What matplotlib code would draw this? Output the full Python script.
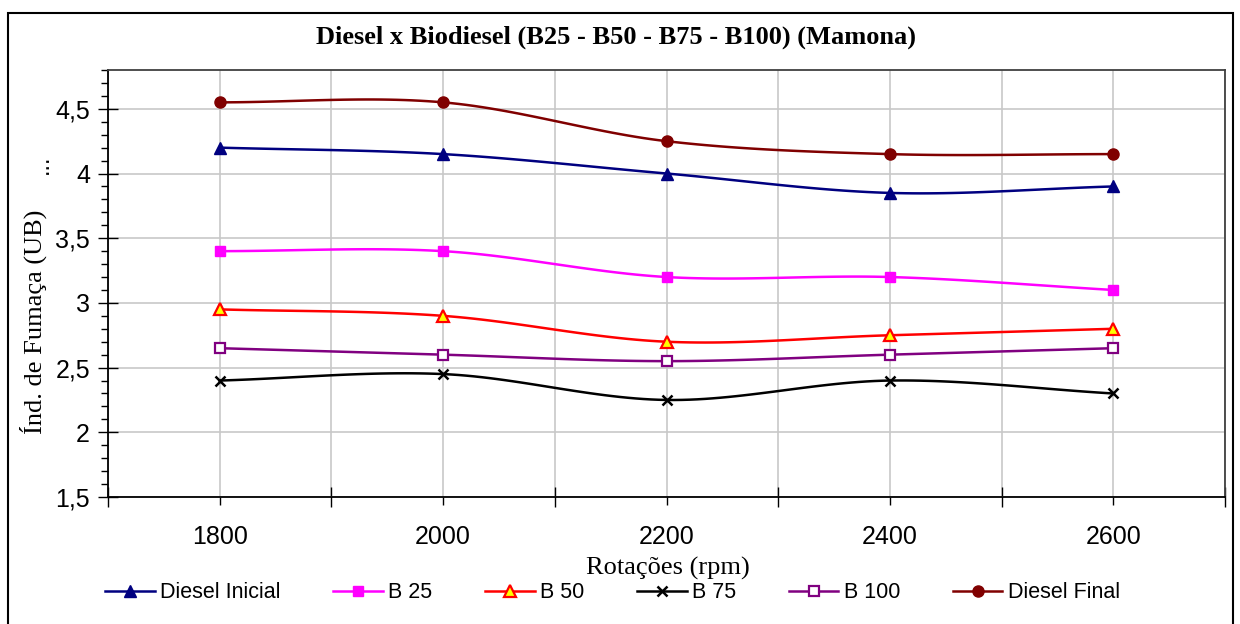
import numpy as np
import matplotlib
matplotlib.use("Agg")
import matplotlib.pyplot as plt
from matplotlib.patches import Rectangle
from matplotlib.ticker import FixedLocator, FuncFormatter

# data
rpm = [1800, 2000, 2200, 2400, 2600]
diesel_inicial = [4.20, 4.15, 4.00, 3.85, 3.90]
b25 = [3.40, 3.40, 3.20, 3.20, 3.10]
b50 = [2.95, 2.90, 2.70, 2.75, 2.80]
b75 = [2.40, 2.45, 2.25, 2.40, 2.30]
b100 = [2.65, 2.60, 2.55, 2.60, 2.65]
diesel_final = [4.55, 4.55, 4.25, 4.15, 4.15]

x_ticks_major = [1700, 1900, 2100, 2300, 2500, 2700]
y_ticks = [1.5, 2.0, 2.5, 3.0, 3.5, 4.0, 4.5]


def smooth(x, y, n=30):
    """Catmull-Rom curve through the points, similar to Excel's smoothed lines."""
    x = np.asarray(x, float)
    y = np.asarray(y, float)
    px = np.concatenate([[2 * x[0] - x[1]], x, [2 * x[-1] - x[-2]]])
    py = np.concatenate([[2 * y[0] - y[1]], y, [2 * y[-1] - y[-2]]])
    xs, ys = [], []
    t = np.linspace(0, 1, n)
    for i in range(1, len(px) - 2):
        for p, out in ((px, xs), (py, ys)):
            p0, p1, p2, p3 = p[i - 1], p[i], p[i + 1], p[i + 2]
            out.append(0.5 * ((2 * p1) + (-p0 + p2) * t
                              + (2 * p0 - 5 * p1 + 4 * p2 - p3) * t ** 2
                              + (-p0 + 3 * p1 - 3 * p2 + p3) * t ** 3))
    return np.concatenate(xs), np.concatenate(ys)


fig = plt.figure(figsize=(12.4, 6.24), dpi=100)
ax = fig.add_axes([108 / 1240, 1 - 497 / 624, (1225 - 108) / 1240, (497 - 70) / 624])

# outer chart border (bottom edge is cut off in the original)
fig.patches.append(Rectangle((8 / 1240, -10 / 624), (1233 - 8) / 1240, (611 + 10) / 624,
                             transform=fig.transFigure, fill=False,
                             edgecolor="black", linewidth=1.5))

series = [
    ("Diesel Inicial", diesel_inicial, dict(color="#000080", marker="^", ms=8)),
    ("B 25", b25, dict(color="#FF00FF", marker="s", ms=7)),
    ("B 50", b50, dict(color="#FF0000", marker="^", ms=8, mfc="#FFFF00", mec="#FF0000", mew=1.6)),
    ("B 75", b75, dict(color="black", marker="x", ms=7, mew=1.8)),
    ("B 100", b100, dict(color="#800080", marker="s", ms=6.5, mfc="white", mec="#800080", mew=1.6)),
    ("Diesel Final", diesel_final, dict(color="#800000", marker="o", ms=8)),
]

for name, vals, style in series:
    sx, sy = smooth(rpm, vals)
    ax.plot(sx, sy, color=style["color"], lw=1.8, zorder=3)
    ax.plot(rpm, vals, linestyle="none", zorder=4, **style)
    # proxy for legend
    ax.plot([], [], lw=1.8, label=name, **style)

ax.set_xlim(1700, 2700)
ax.set_ylim(1.5, 4.8)

ax.xaxis.set_major_locator(FixedLocator(x_ticks_major))
ax.xaxis.set_minor_locator(FixedLocator(rpm))
ax.xaxis.set_major_formatter(FuncFormatter(lambda v, p: ""))
ax.xaxis.set_minor_formatter(FuncFormatter(lambda v, p: f"{v:.0f}"))
ax.yaxis.set_major_locator(FixedLocator(y_ticks))
ax.yaxis.set_minor_locator(FixedLocator(np.arange(1.5, 4.81, 0.1)))
ax.yaxis.set_major_formatter(FuncFormatter(lambda v, p: f"{v:g}".replace(".", ",")))

ax.tick_params(axis="x", which="major", direction="inout", length=14, width=1)
ax.tick_params(axis="x", which="minor", direction="out", length=6, width=1,
               labelsize=18, pad=14)
ax.tick_params(axis="y", which="major", direction="inout", length=14, width=1,
               labelsize=18, pad=6)
ax.tick_params(axis="y", which="minor", direction="out", length=5, width=1)
for lab in ax.get_xticklabels(minor=True) + ax.get_yticklabels():
    lab.set_fontfamily("Liberation Sans")

ax.grid(True, axis="x", which="both", color="#C8C8C8", lw=1.2)
ax.grid(True, axis="y", which="major", color="#C8C8C8", lw=1.2)
ax.set_axisbelow(True)

for side in ("left", "bottom"):
    ax.spines[side].set_linewidth(1.3)
for side in ("top", "right"):
    ax.spines[side].set_color("#404040")
    ax.spines[side].set_linewidth(1.3)

fig.text(616 / 1240, 1 - 37 / 624, "Diesel x Biodiesel (B25 - B50 - B75 - B100) (Mamona)",
         ha="center", va="center", fontfamily="Liberation Serif",
         fontweight="bold", fontsize=19)
ax.set_xlabel("Rotações (rpm)", fontfamily="Liberation Serif", fontsize=19)
ax.xaxis.set_label_coords(0.501, -0.141)
ax.set_ylabel("Índ. de Fumaça (UB)", fontfamily="Liberation Serif", fontsize=19)
ax.yaxis.set_label_coords(-0.055, 0.41)
fig.text(42 / 1240, 1 - 164 / 624, "...", rotation=90, ha="center", va="center",
         fontsize=17, fontfamily="Liberation Sans")

leg = fig.legend(loc="center", bbox_to_anchor=(0.494, 1 - 593 / 624), ncol=6,
                 frameon=False, prop={"family": "Liberation Sans", "size": 15.5},
                 handlelength=2.3, handletextpad=0.25, columnspacing=2.45,
                 borderpad=0, borderaxespad=0)

fig.savefig("out.png", dpi=100)
